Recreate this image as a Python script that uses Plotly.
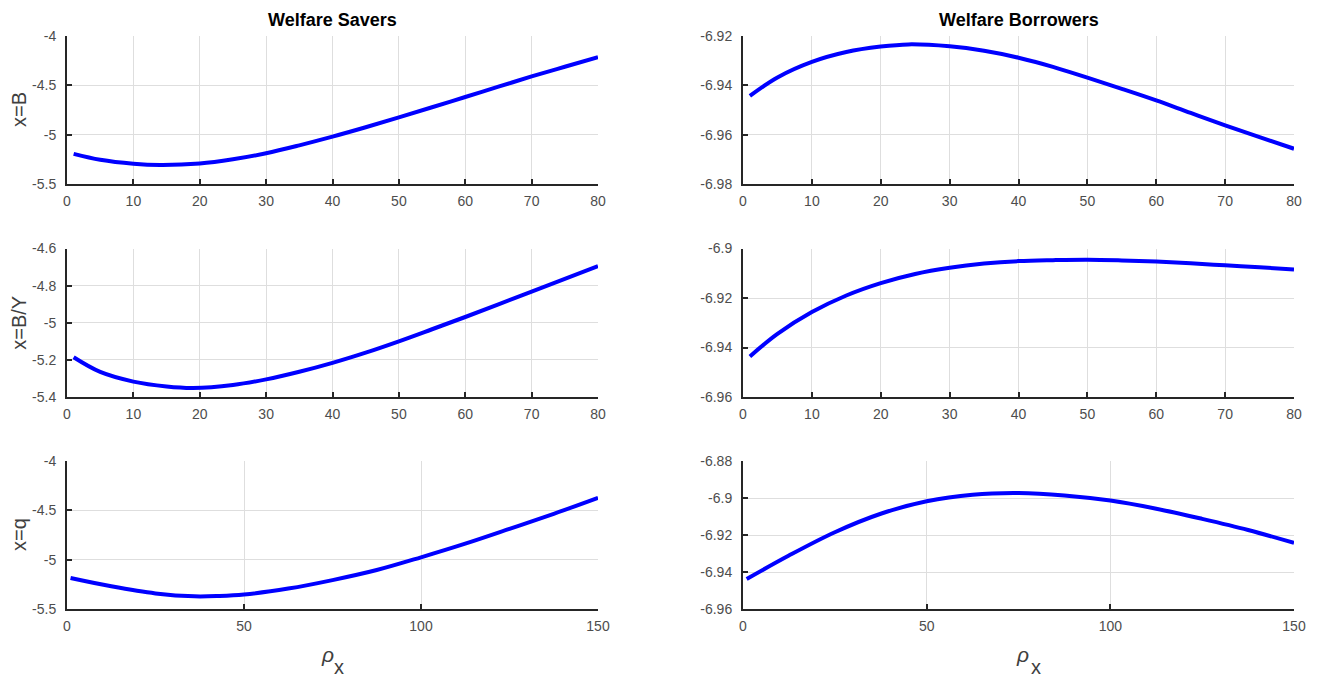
import plotly.graph_objects as go

# ---- data ----
x_s1 = [1, 5, 10, 14, 20, 25, 30, 35, 40, 45, 50, 55, 60, 65, 70, 75, 80]
sav_B = [-5.195, -5.255, -5.295, -5.308, -5.293, -5.25, -5.188, -5.108, -5.02, -4.925,
         -4.825, -4.722, -4.618, -4.514, -4.41, -4.312, -4.215]

x_b1 = [1, 5, 10, 15, 20, 24, 30, 35, 40, 45, 50, 55, 60, 65, 70, 75, 80]
bor_B = [-6.9443, -6.9368, -6.9305, -6.9265, -6.9243, -6.9234, -6.9242, -6.926, -6.9288,
         -6.9325, -6.9369, -6.9414, -6.9461, -6.9512, -6.9562, -6.961, -6.9657]

x_s2 = [1, 5, 10, 15, 19, 25, 30, 35, 40, 45, 50, 55, 60, 65, 70, 75, 80]
sav_BY = [-5.186, -5.265, -5.317, -5.343, -5.351, -5.335, -5.305, -5.264, -5.216, -5.161,
          -5.10, -5.035, -4.969, -4.901, -4.832, -4.763, -4.695]

x_b2 = [1, 5, 10, 15, 20, 25, 30, 35, 40, 45, 50, 55, 60, 65, 70, 75, 80]
bor_BY = [-6.9436, -6.9345, -6.9257, -6.919, -6.914, -6.9103, -6.9078, -6.9061, -6.9051,
          -6.9047, -6.9045, -6.9048, -6.9053, -6.906, -6.9068, -6.9076, -6.9085]

x_s3 = [1, 12.5, 25, 36, 43, 50, 62.5, 75, 87.5, 100, 112.5, 125, 137.5, 150]
sav_q = [-5.186, -5.27, -5.342, -5.372, -5.368, -5.353, -5.293, -5.207, -5.105, -4.976,
         -4.838, -4.688, -4.535, -4.373]

x_b3 = [1, 12.5, 25, 37.5, 50, 62.5, 75, 87.5, 100, 112.5, 125, 137.5, 150]
bor_q = [-6.9438, -6.9311, -6.9185, -6.9085, -6.9018, -6.8982, -6.8973, -6.8986, -6.9014,
         -6.9058, -6.9113, -6.9173, -6.9243]

titles = ["Welfare Savers", "Welfare Borrowers"]
row_labels = ["x=B", "x=B/Y", "x=q"]
xlabel_main = "ρ"
xlabel_sub = "x"

xt_80 = [0, 10, 20, 30, 40, 50, 60, 70, 80]
xt_150 = [0, 50, 100, 150]

yt_s1 = [-5.5, -5, -4.5, -4]
yt_s1_txt = ["-5.5", "-5", "-4.5", "-4"]
yt_b1 = [-6.98, -6.96, -6.94, -6.92]
yt_b1_txt = ["-6.98", "-6.96", "-6.94", "-6.92"]
yt_s2 = [-5.4, -5.2, -5.0, -4.8, -4.6]
yt_s2_txt = ["-5.4", "-5.2", "-5", "-4.8", "-4.6"]
yt_b2 = [-6.96, -6.94, -6.92, -6.90]
yt_b2_txt = ["-6.96", "-6.94", "-6.92", "-6.9"]
yt_s3 = [-5.5, -5, -4.5, -4]
yt_s3_txt = ["-5.5", "-5", "-4.5", "-4"]
yt_b3 = [-6.96, -6.94, -6.92, -6.90, -6.88]
yt_b3_txt = ["-6.96", "-6.94", "-6.92", "-6.9", "-6.88"]

# ---- layout geometry (pixels in the screenshot; the page body adds an 8px offset) ----
OFF = 8
W, H = 1322 - OFF, 678 - OFF
L, R, T, B = 67 - OFF, 1294 - OFF, 36 - OFF, 609 - OFF
PW, PH = R - L, B - T


def xd(a, b):
    return [(a - OFF - L) / PW, (b - OFF - L) / PW]


def yd(top, bot):
    return [(B - (bot - OFF)) / PH, (B - (top - OFF)) / PH]


def px_x(p):
    return (p - OFF - L) / PW


def px_y(p):
    return (B - (p - OFF)) / PH


xdom = [xd(67, 598), xd(743, 1294)]
ydom = [yd(36, 184), yd(248.5, 397), yd(461, 609)]

panels = [
    (0, 0, x_s1, sav_B, [0, 80], xt_80, yt_s1, yt_s1_txt, [-5.5, -4]),
    (0, 1, x_b1, bor_B, [0, 80], xt_80, yt_b1, yt_b1_txt, [-6.98, -6.92]),
    (1, 0, x_s2, sav_BY, [0, 80], xt_80, yt_s2, yt_s2_txt, [-5.4, -4.6]),
    (1, 1, x_b2, bor_BY, [0, 80], xt_80, yt_b2, yt_b2_txt, [-6.96, -6.90]),
    (2, 0, x_s3, sav_q, [0, 150], xt_150, yt_s3, yt_s3_txt, [-5.5, -4]),
    (2, 1, x_b3, bor_q, [0, 150], xt_150, yt_b3, yt_b3_txt, [-6.96, -6.88]),
]

fig = go.Figure()
layout = dict(
    width=W, height=H,
    margin=dict(l=L, r=W - R, t=T, b=H - B, pad=0, autoexpand=False),
    paper_bgcolor="white", plot_bgcolor="white",
    showlegend=False,
    font=dict(family="Liberation Sans, Arial, sans-serif", color="#4d4d4d", size=14),
)

axcol = "#262626"
gridcol = "#dedede"
for i, (r, c, xs, ys, xr, xt, yt, ytt, yr) in enumerate(panels):
    n = i + 1
    xa = "x" if n == 1 else f"x{n}"
    ya = "y" if n == 1 else f"y{n}"
    fig.add_trace(go.Scatter(x=xs, y=ys, mode="lines", xaxis=xa, yaxis=ya,
                             line=dict(color="#0000ff", width=4, shape="spline", smoothing=1.0)))
    xkey = "xaxis" if n == 1 else f"xaxis{n}"
    ykey = "yaxis" if n == 1 else f"yaxis{n}"
    layout[xkey] = dict(
        domain=xdom[c], anchor=ya, range=xr, tickvals=xt, ticktext=[str(v) for v in xt],
        showline=True, linecolor=axcol, linewidth=2, mirror=False, automargin=False,
        ticks="inside", ticklen=5, tickcolor=axcol, tickwidth=1.5,
        showgrid=True, gridcolor=gridcol, gridwidth=1, zeroline=False,
        tickfont=dict(size=14, color="#4d4d4d"), ticklabelstandoff=3,
    )
    layout[ykey] = dict(
        domain=ydom[r], anchor=xa, range=yr, tickvals=yt, ticktext=ytt,
        showline=True, linecolor=axcol, linewidth=2, mirror=False, automargin=False,
        ticks="inside", ticklen=5, tickcolor=axcol, tickwidth=1.5,
        showgrid=True, gridcolor=gridcol, gridwidth=1, zeroline=False,
        tickfont=dict(size=14, color="#4d4d4d"), ticklabelstandoff=6,
    )

fig.update_layout(**layout)

ann = []
for c, t in enumerate(titles):
    ann.append(dict(text=f"<b>{t}</b>", x=(xdom[c][0] + xdom[c][1]) / 2, y=px_y(20),
                    xref="paper", yref="paper", showarrow=False,
                    font=dict(size=18, color="black"), xanchor="center", yanchor="middle"))
for r, t in enumerate(row_labels):
    ann.append(dict(text=t, x=px_x(19), y=(ydom[r][0] + ydom[r][1]) / 2, xref="paper", yref="paper",
                    showarrow=False, textangle=-90, font=dict(size=20, color="#404040"),
                    xanchor="center", yanchor="middle"))
# x-axis label: italic rho with a large subscript x, as in the reference
rho_x = [327, 1022]
sub_x = [338.5, 1035.5]
for c in range(2):
    ann.append(dict(text=f"<i>{xlabel_main}</i>", x=px_x(rho_x[c]), y=px_y(655),
                    xref="paper", yref="paper", showarrow=False,
                    font=dict(size=21, color="#404040"), xanchor="center", yanchor="middle"))
    ann.append(dict(text=xlabel_sub, x=px_x(sub_x[c]), y=px_y(667),
                    xref="paper", yref="paper", showarrow=False,
                    font=dict(size=20, color="#404040"), xanchor="center", yanchor="middle"))
fig.update_layout(annotations=ann)

fig.write_html("out.html")
